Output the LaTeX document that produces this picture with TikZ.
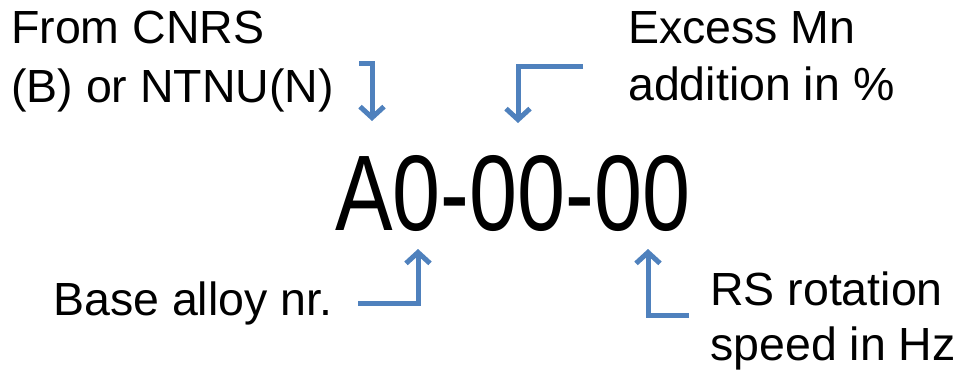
\documentclass[tikz,border=0pt]{standalone}
\usepackage{fontspec}
\setmainfont{Liberation Sans}
\usetikzlibrary{arrows.meta}
\definecolor{arrowblue}{RGB}{79,129,189}
\begin{document}
\begin{tikzpicture}[x=1pt,y=-1pt,
  lbl/.style={anchor=base west,inner sep=0pt,align=left,
    font=\fontsize{46.5}{57}\selectfont},
  pointer/.style={draw=arrowblue,line width=5pt,
    -{Straight Barb[length=11pt,width=24pt,line width=5pt]}}]
\useasboundingbox (0,0) rectangle (966,372);
\node[lbl,font=\fontsize{46.5}{59}\selectfont] (src) at (11,102) {From CNRS\\(B) or NTNU(N)};
\node[lbl] (mn) at (628,100) {Excess Mn\\addition in \%};
\node[lbl] (base) at (53,315) {Base alloy nr.};
\node[lbl,font=\fontsize{46.5}{55}\selectfont] (rs) at (710,360) {RS rotation\\speed in Hz};
\node[anchor=base west,inner sep=0pt,font=\fontsize{107.5}{120}\selectfont]
  (code) at (335,230) {\scalebox{0.803}[1]{A0-00-00}};
\coordinate (s1) at (359,63);
\coordinate (t1) at (372,121);
\coordinate (s2) at (583,66);
\coordinate (t2) at (518,123);
\coordinate (s3) at (358,303);
\coordinate (t3) at (418,249);
\coordinate (s4) at (689,315);
\coordinate (t4) at (648,249);
\draw[pointer] (s1) -| (t1);
\draw[pointer] (s2) -| (t2);
\draw[pointer] (s3) -| (t3);
\draw[pointer] (s4) -| (t4);
\end{tikzpicture}
\end{document}
